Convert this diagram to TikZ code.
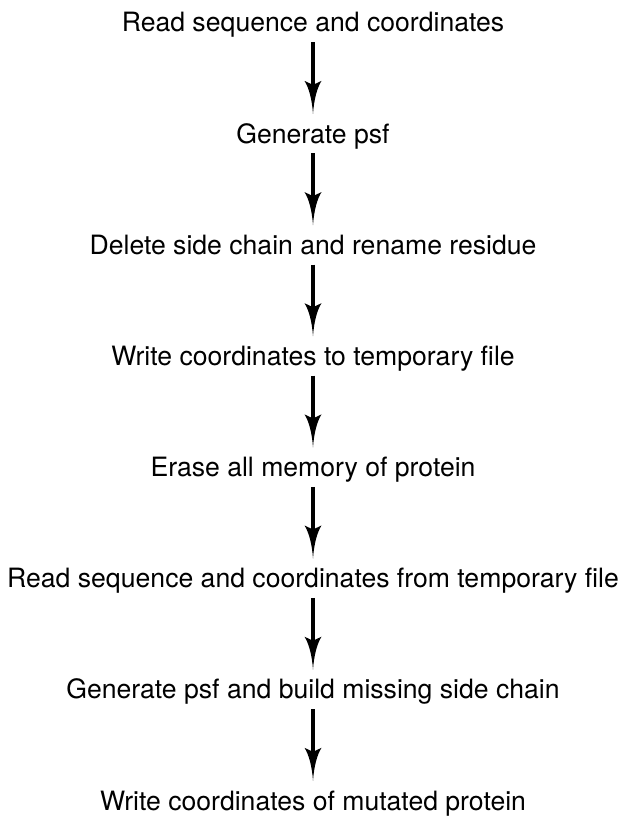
\documentclass[tikz,border=0pt]{standalone}
\usepackage{fontspec}
\setmainfont{TeX Gyre Heros}
\usetikzlibrary{arrows.meta}

% A slender arrow tip with concave flanks and a shallow notch at the back.
\pgfdeclarearrow{
  name = Spike,
  defaults = {length = 33pt, width = 17pt, inset = 4pt},
  parameters = {\the\pgfarrowlength,\the\pgfarrowwidth,\the\pgfarrowinset},
  setup code = {
    \pgfarrowssettipend{0pt}
    \pgfarrowssetlineend{-.6\pgfarrowlength}
    \pgfarrowssetbackend{-\pgfarrowlength}
    \pgfarrowshullpoint{0pt}{0pt}
    \pgfarrowsupperhullpoint{-\pgfarrowlength}{.5\pgfarrowwidth}
    \pgfarrowssavethe\pgfarrowlength
    \pgfarrowssavethe\pgfarrowwidth
    \pgfarrowssavethe\pgfarrowinset
  },
  drawing code = {
    \pgfpathmoveto{\pgfqpoint{0pt}{0pt}}
    \pgfpathcurveto{\pgfqpoint{-.45\pgfarrowlength}{.06\pgfarrowwidth}}
                   {\pgfqpoint{-.8\pgfarrowlength}{.25\pgfarrowwidth}}
                   {\pgfqpoint{-\pgfarrowlength}{.5\pgfarrowwidth}}
    \pgfpathlineto{\pgfpoint{-\pgfarrowlength+\pgfarrowinset}{0pt}}
    \pgfpathlineto{\pgfqpoint{-\pgfarrowlength}{-.5\pgfarrowwidth}}
    \pgfpathcurveto{\pgfqpoint{-.8\pgfarrowlength}{-.25\pgfarrowwidth}}
                   {\pgfqpoint{-.45\pgfarrowlength}{-.06\pgfarrowwidth}}
                   {\pgfqpoint{0pt}{0pt}}
    \pgfpathclose
    \pgfusepathqfill
  }
}

\tikzset{
  stage/.style={anchor=base, font=\fontsize{26.6}{30}\selectfont,
    text height=24pt, text depth=5pt, inner xsep=0pt, inner ysep=5pt},
  flow/.style={line width=3.8pt, -{Spike[length=33pt, width=17pt, inset=4pt]}}
}
\begin{document}
\begin{tikzpicture}[x=1pt, y=-1pt]
  \useasboundingbox (0,0) rectangle (621,818);
  \def\colx{313}
  \node[stage] (s1) at (\colx, 32.0)  {Read sequence and coordinates};
  \node[stage] (s2) at (\colx, 143.1) {Generate psf};
  \node[stage] (s3) at (\colx, 254.3) {Delete side chain and rename residue};
  \node[stage] (s4) at (\colx, 365.4) {Write coordinates to temporary file};
  \node[stage] (s5) at (\colx, 476.6) {Erase all memory of protein};
  \node[stage] (s6) at (\colx, 587.7) {Read sequence and coordinates from temporary file};
  \node[stage] (s7) at (\colx, 698.9) {Generate psf and build missing side chain};
  \node[stage] (s8) at (\colx, 810.0) {Write coordinates of mutated protein};
  \foreach \a/\b in {s1/s2, s2/s3, s3/s4, s4/s5, s5/s6, s6/s7, s7/s8}
    \draw[flow] (\a.south) -- (\b.north);
\end{tikzpicture}
\end{document}
